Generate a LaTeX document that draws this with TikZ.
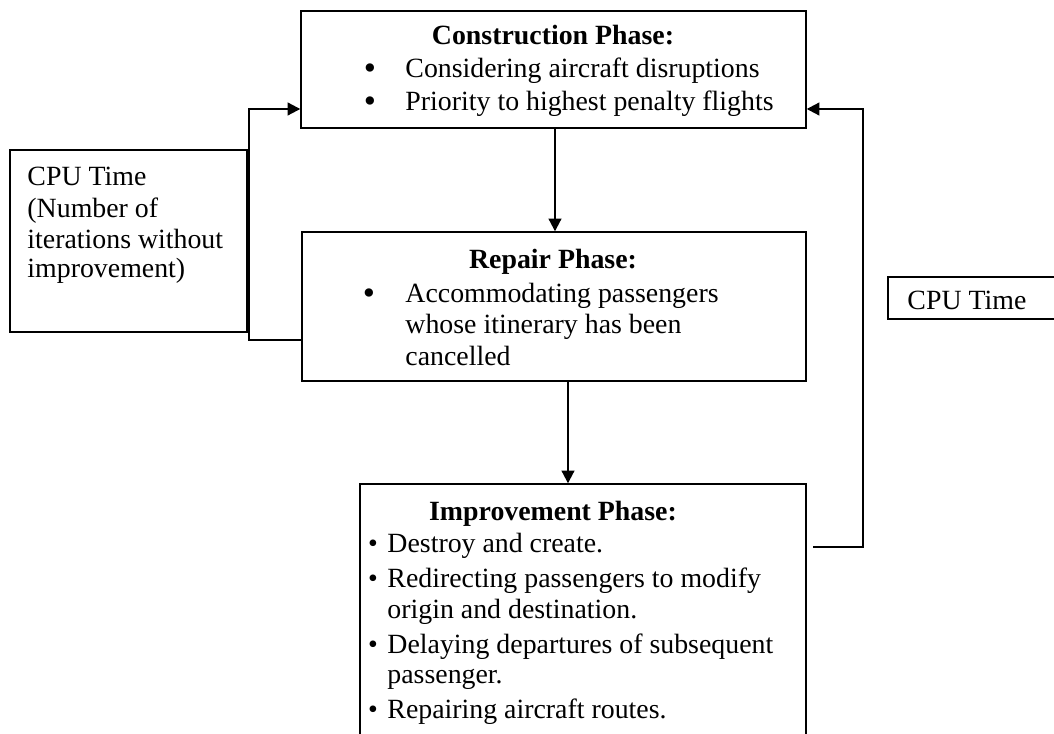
\documentclass[tikz,border=0pt]{standalone}
\usepackage{fontspec}
\setmainfont{Liberation Serif}
\usetikzlibrary{arrows.meta,fit}
\begin{document}
\begin{tikzpicture}[x=0.431pt, y=-0.431pt]

	\tikzstyle{box}=[draw, line width=0.6pt, inner sep=0pt]
	\tikzstyle{head}=[anchor=base, inner sep=0pt, font=\fontsize{12}{14}\selectfont\bfseries]
	\tikzstyle{line}=[anchor=base west, inner sep=0pt, font=\fontsize{12}{14}\selectfont]
	\tikzstyle{dot}=[anchor=base, inner sep=0pt, font=\fontsize{12}{14}\selectfont]
	\tikzstyle{bigdot}=[anchor=base, inner sep=0pt, text height=7pt, text depth=0pt, font=\fontsize{15}{15}\selectfont]
	\tikzstyle{flow}=[line width=0.9pt, -{Triangle[length=5.5pt, width=5.5pt]}]

	\clip (0,0) rectangle (1054,734);

	\coordinate (c_tl) at (301,11); % CONSTRUCTION
	\coordinate (c_br) at (806,128); % CONSTRUCTION
	\coordinate (r_tl) at (302,232); % REPAIR
	\coordinate (r_br) at (806,381); % REPAIR
	\coordinate (i_tl) at (360,484); % IMPROVEMENT
	\coordinate (i_br) at (806,760); % IMPROVEMENT
	\coordinate (t_tl) at (10,150); % CPU LEFT
	\coordinate (t_br) at (247,332); % CPU LEFT
	\coordinate (u_tl) at (888,277); % CPU RIGHT
	\coordinate (u_br) at (1070,319); % CPU RIGHT

	\node[box, fit=(c_tl)(c_br)] (constr) {};
	\node[box, fit=(r_tl)(r_br)] (repair) {};
	\node[box, fit=(i_tl)(i_br)] (improve) {};
	\node[box, fit=(t_tl)(t_br)] (cpu_l) {};
	\node[box, fit=(u_tl)(u_br)] (cpu_r) {};

	%%%%%%% CONSTRUCTION PHASE %%%%%%%
	\node[head] (c_head) at (553,45) {Construction Phase:};
	\node[bigdot] (c_b1) at (370,80) {\textbullet};
	\node[line] (c_l1) at (405,78) {Considering aircraft disruptions};
	\node[bigdot] (c_b2) at (370,113) {\textbullet};
	\node[line] (c_l2) at (405,111) {Priority to highest penalty flights};

	%%%%%%% REPAIR PHASE %%%%%%%
	\node[head] (r_head) at (553,269) {Repair Phase:};
	\node[bigdot] (r_b1) at (369,305) {\textbullet};
	\node[line] (r_l1) at (405,303) {Accommodating passengers};
	\node[line] (r_l2) at (405,334) {whose itinerary has been};
	\node[line] (r_l3) at (405,366) {cancelled};

	%%%%%%% IMPROVEMENT PHASE %%%%%%%
	\node[head] (i_head) at (553,521) {Improvement Phase:};
	\node[dot] (i_b1) at (373,553) {\textbullet};
	\node[line] (i_l1) at (387,553) {Destroy and create.};
	\node[dot] (i_b2) at (373,588) {\textbullet};
	\node[line] (i_l2) at (387,588) {Redirecting passengers to modify};
	\node[line] (i_l3) at (387,619) {origin and destination.};
	\node[dot] (i_b3) at (373,654) {\textbullet};
	\node[line] (i_l4) at (387,654) {Delaying departures of subsequent};
	\node[line] (i_l5) at (387,684) {passenger.};
	\node[dot] (i_b4) at (373,719) {\textbullet};
	\node[line] (i_l6) at (387,719) {Repairing aircraft routes.};

	%%%%%%% STOPPING RULES %%%%%%%
	\node[line] (t_l1) at (27,186) {CPU Time};
	\node[line] (t_l2) at (27,218) {(Number of};
	\node[line] (t_l3) at (27,249) {iterations without};
	\node[line] (t_l4) at (27,278) {improvement)};
	\node[line] (u_l1) at (907,310) {CPU Time};

	%%%%%%% FLOW %%%%%%%
	\coordinate (d_1) at (555,180);
	\coordinate (d_2) at (568,430);
	\coordinate (l_bot) at (249,340);
	\coordinate (l_top) at (249,109);
	\coordinate (i_out) at (813,547);
	\coordinate (r_bot) at (863,547);
	\coordinate (r_top) at (863,109);

	\draw[flow] (constr.south -| d_1) -- (repair.north -| d_1);
	\draw[flow] (repair.south -| d_2) -- (improve.north -| d_2);
	\draw[flow] (repair.west |- l_bot) -- (l_bot) -- (l_top) -- (l_top -| constr.west);
	\draw[flow] (i_out) -- (r_bot) -- (r_top) -- (r_top -| constr.east);
\end{tikzpicture}
\end{document}
